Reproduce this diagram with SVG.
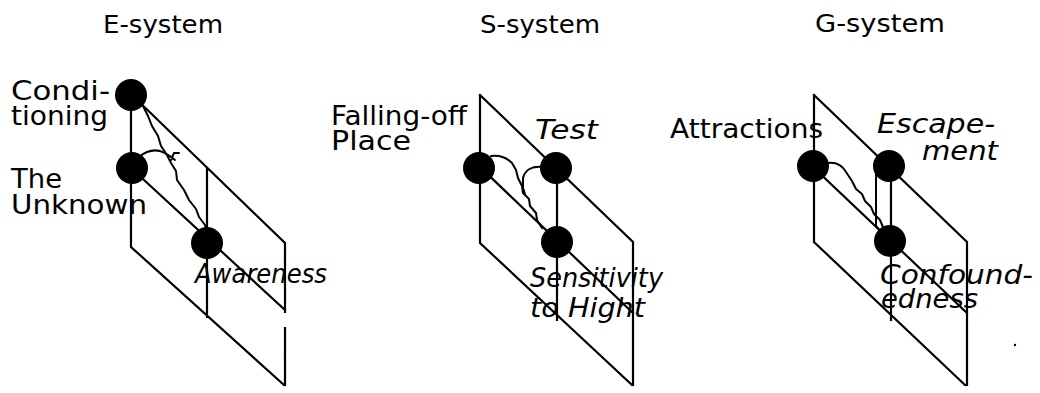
<svg xmlns="http://www.w3.org/2000/svg" width="1040" height="393" viewBox="0 0 1040 393">
<style>
.t{font-family:"DejaVu Sans","Liberation Sans",sans-serif;font-size:26px;fill:#000}
.ti{font-family:"DejaVu Sans","Liberation Sans",sans-serif;font-size:26px;font-style:italic;fill:#000}
.h{font-family:"DejaVu Sans","Liberation Sans",sans-serif;font-size:24px;fill:#000}
.pl{fill:none;stroke:#000;stroke-width:2.2;stroke-linecap:square}
.w{fill:none;stroke:#000;stroke-width:2;stroke-linejoin:round;stroke-linecap:round}
.n{fill:#000}
</style>
<rect width="1040" height="393" fill="#fff"/>
<g id="titles">
<text class="h" x="103" y="33" textLength="120" lengthAdjust="spacingAndGlyphs">E-system</text>
<text class="h" x="480" y="33" textLength="120" lengthAdjust="spacingAndGlyphs">S-system</text>
<text class="h" x="815" y="32" textLength="130" lengthAdjust="spacingAndGlyphs">G-system</text>
</g>
<g id="planes">
<path class="pl" d="M131,94 L131,247 L284,385 M131,94 L285,243 L285,312 M285,328 L285,385 M131,168 L285,310 M207,168 L207,317"/>
<path class="pl" d="M480,95 L480,243 L632,385 M480,95 L633,242 L633,385 M480,167 L633,313 M557,167 L557,320"/>
<path class="pl" d="M814,95 L814,242 L965,385 M814,95 L967,242 L967,385 M813,167 L967,313 M891,167 L891,320"/>
</g>
<g id="connectors">
<path class="w" d="M143,106 L148,116 L152,126 L158,136 L161,146 L167,155 L171,163 L176,171 L177,180 L184,190 L189,200 L196,209 L199,217 L205,225 L207,232"/>
<path class="w" d="M139,157 C145,152 152,149 160,151 C166,153 170,156 175,160 M171,160 L174,153 L179,153"/>
<path class="w" d="M491,156 C500,155 507,158 512,163 L516,170 L518,178 L522,186 L523,193 L529,199 L530,206 L536,213 L537,220 L542,228"/>
<path class="w" d="M542,167 C532,166 525,170 523,178 L523,188 L525,194"/>
<path class="w" d="M828,163 C836,162 842,165 846,172 L852,181 L856,189 L862,194 L865,201 L871,207 L874,214 L880,220 L883,227"/>
<path class="w" d="M876,168 L876,226 L882,233"/>
</g>
<g id="n-conditioning"><circle class="n" cx="131" cy="95" r="16"/><text class="t" x="11" y="100" textLength="99" lengthAdjust="spacingAndGlyphs">Condi-</text><text class="t" x="11" y="125" textLength="97" lengthAdjust="spacingAndGlyphs">tioning</text></g>
<g id="n-unknown"><circle class="n" cx="132" cy="168" r="16"/><text class="t" x="11" y="188" textLength="51" lengthAdjust="spacingAndGlyphs">The</text><text class="t" x="11" y="214" textLength="136" lengthAdjust="spacingAndGlyphs">Unknown</text></g>
<g id="n-awareness"><circle class="n" cx="207" cy="243" r="16"/><text class="ti" x="195" y="283" textLength="132" lengthAdjust="spacingAndGlyphs">Awareness</text></g>
<g id="n-falling"><circle class="n" cx="479" cy="168" r="16"/><text class="t" x="331" y="125" textLength="136" lengthAdjust="spacingAndGlyphs">Falling-off</text><text class="t" x="331" y="150" textLength="80" lengthAdjust="spacingAndGlyphs">Place</text></g>
<g id="n-test"><circle class="n" cx="556" cy="168" r="16"/><text class="ti" x="535" y="139" textLength="63" lengthAdjust="spacingAndGlyphs">Test</text></g>
<g id="n-sensitivity"><circle class="n" cx="557" cy="242" r="16"/><text class="ti" x="530" y="287" textLength="133" lengthAdjust="spacingAndGlyphs">Sensitivity</text><text class="ti" x="530" y="317" textLength="115" lengthAdjust="spacingAndGlyphs">to Hight</text></g>
<g id="n-attractions"><circle class="n" cx="813" cy="166" r="16"/><text class="t" x="670" y="138" textLength="153" lengthAdjust="spacingAndGlyphs">Attractions</text></g>
<g id="n-escapement"><circle class="n" cx="889" cy="166" r="16"/><text class="ti" x="877" y="133" textLength="118" lengthAdjust="spacingAndGlyphs">Escape-</text><text class="ti" x="922" y="160" textLength="76" lengthAdjust="spacingAndGlyphs">ment</text></g>
<g id="n-confoundedness"><circle class="n" cx="890" cy="241" r="16"/><text class="ti" x="880" y="284" textLength="153" lengthAdjust="spacingAndGlyphs">Confound-</text><text class="ti" x="881" y="308" textLength="97" lengthAdjust="spacingAndGlyphs">edness</text></g>
<circle class="n" cx="1015" cy="345" r="1.2"/>
</svg>
